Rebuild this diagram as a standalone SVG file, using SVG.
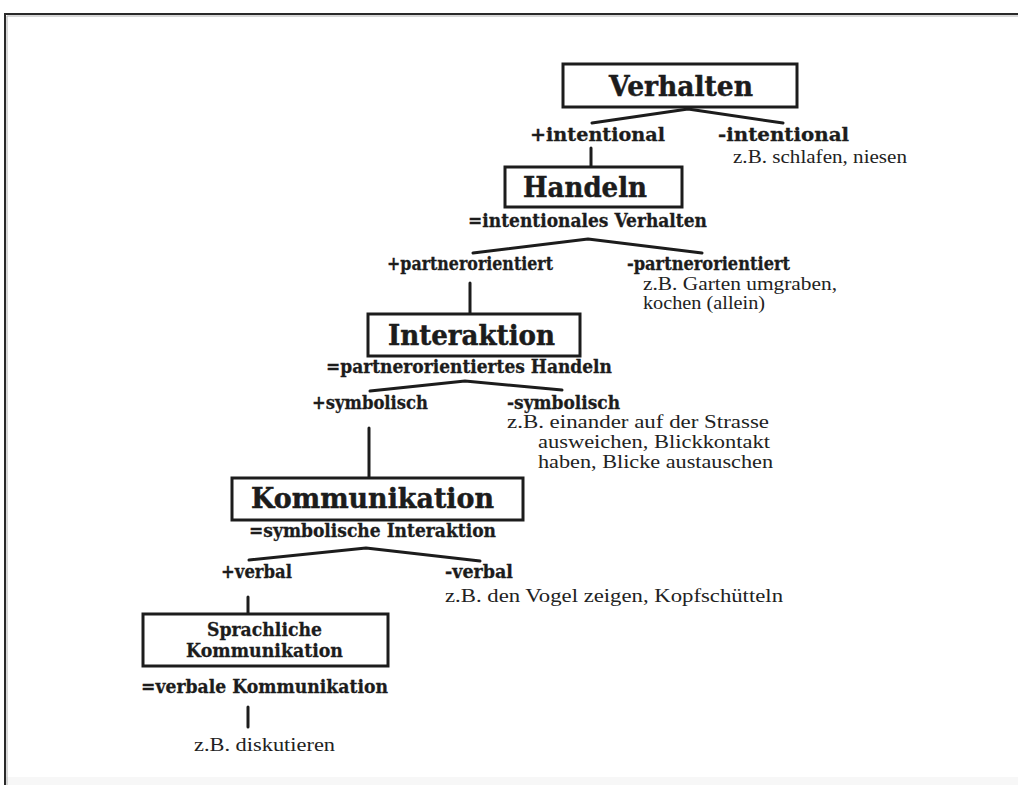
<svg xmlns="http://www.w3.org/2000/svg" width="1018" height="785" viewBox="0 0 1018 785">
<style>
.title{font-family:"DejaVu Serif","Liberation Serif",serif;font-weight:bold;font-size:28px;fill:#1c1c1c;stroke:#1c1c1c;stroke-width:0.5}
.sub{font-family:"DejaVu Serif","Liberation Serif",serif;font-weight:bold;font-size:19px;fill:#1c1c1c;stroke:#1c1c1c;stroke-width:0.3}
.lab{font-family:"DejaVu Serif","Liberation Serif",serif;font-weight:bold;font-size:18px;fill:#1c1c1c;stroke:#1c1c1c;stroke-width:0.3}
.ex{font-family:"Liberation Serif","Times New Roman",serif;font-size:18px;fill:#222}
.box{fill:#fff;stroke:#1c1c1c;stroke-width:3}
.ln{fill:none;stroke:#1c1c1c;stroke-width:3;stroke-linecap:round;stroke-linejoin:round}
</style>
<rect x="0" y="0" width="1018" height="785" fill="#fff"/>
<rect x="6" y="777" width="1012" height="8" fill="#f7f7f7"/>
<g id="frame">
<path d="M5,785 V14 H1018" fill="none" stroke="#2a2a2a" stroke-width="2"/>
<path d="M7,785 V16 H1018" fill="none" stroke="#b0b0b0" stroke-width="1"/>
</g>
<g id="connectors">
<polyline class="ln" points="592,123 688,109 783,123"/>
<line class="ln" x1="591" y1="148" x2="591" y2="167"/>
<polyline class="ln" points="473,253 588,239 702,253"/>
<line class="ln" x1="470" y1="283" x2="470" y2="314"/>
<polyline class="ln" points="370,391 465,381 562,390"/>
<line class="ln" x1="369" y1="428" x2="369" y2="478"/>
<polyline class="ln" points="249,560 366,548 480,561"/>
<line class="ln" x1="248" y1="597" x2="248" y2="614"/>
<line class="ln" x1="248" y1="707" x2="248" y2="727"/>
</g>
<g id="verhalten">
<rect class="box" x="563" y="64" width="234" height="43"/>
<text class="title" x="609" y="96" textLength="144" lengthAdjust="spacingAndGlyphs">Verhalten</text>
</g>
<g id="intentional">
<text class="lab" x="530" y="141" textLength="135" lengthAdjust="spacingAndGlyphs">+intentional</text>
</g>
<g id="nicht-intentional">
<text class="lab" x="718" y="141" textLength="131" lengthAdjust="spacingAndGlyphs">-intentional</text>
<text class="ex" x="733" y="163" textLength="174" lengthAdjust="spacingAndGlyphs">z.B. schlafen, niesen</text>
</g>
<g id="handeln">
<rect class="box" x="505" y="167" width="177" height="40"/>
<text class="title" x="523" y="197" textLength="124" lengthAdjust="spacingAndGlyphs">Handeln</text>
<text class="lab" x="468" y="227" textLength="239" lengthAdjust="spacingAndGlyphs">=intentionales Verhalten</text>
</g>
<g id="partnerorientiert">
<text class="lab" x="387" y="270" textLength="166" lengthAdjust="spacingAndGlyphs">+partnerorientiert</text>
</g>
<g id="nicht-partnerorientiert">
<text class="lab" x="627" y="270" textLength="163" lengthAdjust="spacingAndGlyphs">-partnerorientiert</text>
<text class="ex" x="643" y="290" textLength="194" lengthAdjust="spacingAndGlyphs">z.B. Garten umgraben,</text>
<text class="ex" x="643" y="309" textLength="122" lengthAdjust="spacingAndGlyphs">kochen (allein)</text>
</g>
<g id="interaktion">
<rect class="box" x="368" y="314" width="212" height="42"/>
<text class="title" x="388" y="345" textLength="167" lengthAdjust="spacingAndGlyphs">Interaktion</text>
<text class="lab" x="326" y="373" textLength="286" lengthAdjust="spacingAndGlyphs">=partnerorientiertes Handeln</text>
</g>
<g id="symbolisch">
<text class="lab" x="312" y="409" textLength="116" lengthAdjust="spacingAndGlyphs">+symbolisch</text>
</g>
<g id="nicht-symbolisch">
<text class="lab" x="507" y="409" textLength="113" lengthAdjust="spacingAndGlyphs">-symbolisch</text>
<text class="ex" x="507" y="428" textLength="262" lengthAdjust="spacingAndGlyphs">z.B. einander auf der Strasse</text>
<text class="ex" x="538" y="448" textLength="232" lengthAdjust="spacingAndGlyphs">ausweichen, Blickkontakt</text>
<text class="ex" x="538" y="468" textLength="235" lengthAdjust="spacingAndGlyphs">haben, Blicke austauschen</text>
</g>
<g id="kommunikation">
<rect class="box" x="232" y="478" width="291" height="42"/>
<text class="title" x="251" y="508" textLength="243" lengthAdjust="spacingAndGlyphs">Kommunikation</text>
<text class="lab" x="249" y="537" textLength="247" lengthAdjust="spacingAndGlyphs">=symbolische Interaktion</text>
</g>
<g id="verbal">
<text class="lab" x="221" y="578" textLength="71" lengthAdjust="spacingAndGlyphs">+verbal</text>
</g>
<g id="nicht-verbal">
<text class="lab" x="445" y="578" textLength="68" lengthAdjust="spacingAndGlyphs">-verbal</text>
<text class="ex" x="445" y="602" textLength="338" lengthAdjust="spacingAndGlyphs">z.B. den Vogel zeigen, Kopfschütteln</text>
</g>
<g id="sprachliche-kommunikation">
<rect class="box" x="143" y="614" width="245" height="52"/>
<text class="sub" x="207" y="636" textLength="115" lengthAdjust="spacingAndGlyphs">Sprachliche</text>
<text class="sub" x="186" y="657" textLength="157" lengthAdjust="spacingAndGlyphs">Kommunikation</text>
<text class="lab" x="141" y="693" textLength="247" lengthAdjust="spacingAndGlyphs">=verbale Kommunikation</text>
</g>
<g id="beispiel">
<text class="ex" x="194" y="751" textLength="141" lengthAdjust="spacingAndGlyphs">z.B. diskutieren</text>
</g>
</svg>
